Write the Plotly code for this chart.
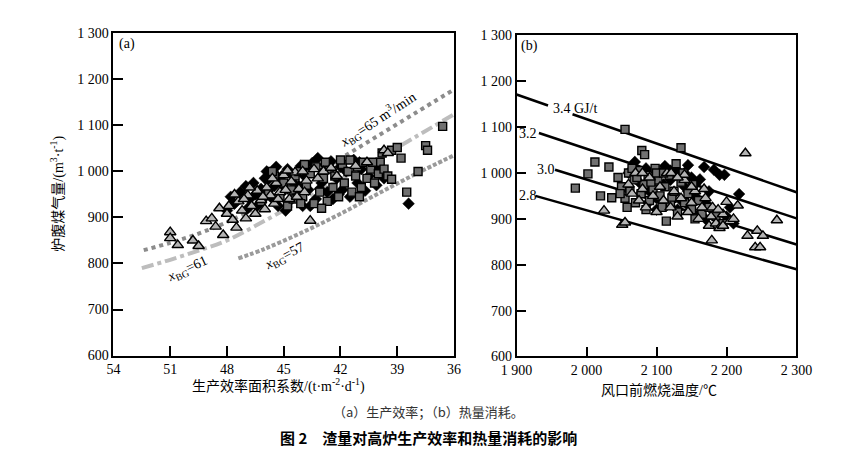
import plotly.graph_objects as go

# ---- panel (a): production efficiency ----
a_tri_x = [51.0, 51.0, 50.6, 49.8, 49.5, 49.1, 48.8, 48.6, 48.2, 48.0, 47.9, 47.7, 47.5, 47.4, 47.2,
           47.0, 46.9, 46.7, 46.5, 46.4, 46.2, 46.0, 45.9, 45.7, 45.5, 45.4, 45.2, 45.0, 44.9, 44.7,
           44.6, 44.4, 44.2, 44.0, 43.8, 43.6, 43.4, 43.2, 42.9, 42.5, 42.2, 41.2, 40.6, 39.7, 39.5,
           47.6, 46.8, 45.6, 44.8, 47.1, 48.4, 46.1, 45.3, 44.3, 43.9]
a_tri_y = [868, 855, 840, 850, 838, 892, 898, 880, 862, 908, 925, 895, 878, 935, 915,
           898, 948, 925, 908, 958, 938, 918, 965, 948, 930, 975, 955, 992, 960, 940,
           978, 998, 962, 1000, 980, 893, 1005, 985, 1000, 1008, 990, 1012, 1020, 1046, 1040,
           950, 965, 985, 1002, 940, 920, 945, 940, 945, 955]

a_dia_x = [47.3, 47.0, 46.8, 46.6, 46.4, 46.2, 46.0, 45.8, 45.7, 45.5, 45.3, 45.1, 45.0, 44.8, 44.7,
           44.5, 44.3, 44.1, 44.0, 43.9, 43.7, 43.5, 43.3, 43.2, 43.0, 42.9, 42.7, 42.5, 42.4, 42.2,
           42.0, 41.9, 41.7, 41.5, 41.3, 41.1, 40.9, 40.7, 40.5, 40.3, 40.1, 39.9, 39.7, 38.4, 45.9,
           46.9, 44.6, 43.8, 42.8, 47.6, 46.1, 44.9, 43.6, 42.1, 41.0, 40.0, 45.4, 44.2, 43.1, 46.5,
           48.0, 47.8]
a_dia_y = [955, 968, 940, 975, 925, 962, 985, 983, 945, 968, 925, 990, 958, 1005, 935,
           975, 948, 1012, 925, 990, 960, 1018, 940, 1029, 975, 1000, 955, 1022, 940, 985,
           1010, 960, 1000, 945, 1025, 975, 1005, 958, 990, 1015, 970, 1000, 985, 930, 1000,
           920, 995, 1005, 1015, 930, 940, 915, 925, 950, 1020, 1010, 1010, 968, 962, 950,
           915, 945]

a_sq_x = [46.2, 45.8, 45.5, 45.2, 45.0, 44.8, 44.6, 44.4, 44.2, 44.0, 43.8, 43.6, 43.4, 43.3, 43.1,
          42.9, 42.7, 42.6, 42.4, 42.3, 42.1, 41.9, 41.8, 41.6, 41.4, 41.2, 41.1, 40.9, 40.8, 40.6,
          40.4, 40.2, 40.0, 39.9, 39.7, 39.5, 39.3, 39.0, 38.8, 38.5, 37.9, 37.5, 37.4, 36.6, 44.5,
          43.0, 41.5, 42.8, 40.3, 45.6, 44.1, 41.0, 39.8, 43.9, 42.0, 39.3]
a_sq_y = [935, 955, 990, 945, 975, 925, 960, 990, 1000, 945, 970, 995, 930, 1010, 955,
          985, 935, 1005, 965, 990, 945, 1015, 975, 1000, 955, 990, 1010, 965, 1020, 985,
          1005, 975, 995, 1020, 1005, 990, 1046, 1052, 1029, 955, 1000, 1056, 1046, 1098, 940,
          920, 1025, 1020, 1020, 1000, 930, 945, 1040, 1015, 1025, 983]

# x_BG lines
l65_x = [52.4, 51.0, 49.5, 48.0, 46.0, 44.0, 42.0, 40.0, 38.0, 36.0]
l65_y = [829, 845, 865, 890, 932, 979, 1028, 1078, 1128, 1178]
l61_x = [52.5, 51.0, 49.5, 48.0, 46.0, 44.0, 42.0, 40.0, 38.0, 36.0]
l61_y = [790, 808, 828, 850, 893, 938, 983, 1028, 1076, 1124]
l57_x = [47.4, 46.0, 44.0, 42.0, 40.0, 38.0, 36.0]
l57_y = [811, 832, 868, 908, 952, 995, 1035]

# ---- panel (b): heat consumption ----
b_sq_t = [1984, 2002, 2012, 2020, 2032, 2036, 2055, 2079, 2083, 2135, 2045, 2050, 2055, 2060, 2062,
          2068, 2070, 2075, 2078, 2082, 2088, 2090, 2095, 2098, 2102, 2105, 2108, 2112, 2114, 2118,
          2122, 2125, 2128, 2130, 2135, 2140, 2145, 2150, 2155, 2160, 2165, 2175, 2185, 2195, 2065,
          2085, 2100, 2048, 2058, 2072, 2092, 2110, 2120, 2138, 2152]
b_sq_q = [967, 998, 1024, 950, 1013, 946, 1095, 1049, 1040, 1055, 990, 970, 945, 1000, 960,
          985, 935, 1005, 955, 975, 995, 940, 965, 1010, 985, 950, 925, 970, 895, 995,
          945, 960, 1020, 915, 980, 935, 955, 920, 900, 940, 910, 925, 905, 890, 1010,
          920, 1000, 955, 925, 990, 980, 1000, 930, 1000, 975]

b_dia_t = [2060, 2069, 2075, 2085, 2090, 2095, 2100, 2105, 2110, 2115, 2120, 2125, 2130, 2135, 2140,
           2145, 2148, 2150, 2155, 2160, 2168, 2162, 2170, 2175, 2182, 2182, 2190, 2197, 2200, 2205,
           2218, 2210, 2140, 2120, 2100, 2088, 2130, 2155, 2170, 2112, 2078, 2145]
b_dia_q = [1000, 1024, 980, 1010, 960, 990, 945, 1000, 975, 930, 985, 955, 1005, 940, 970,
           1017, 925, 990, 950, 910, 1013, 986, 935, 960, 1007, 915, 996, 996, 905, 925,
           954, 890, 1000, 1005, 920, 935, 920, 975, 900, 1015, 955, 960]

b_tri_t = [2025, 2051, 2055, 2060, 2065, 2070, 2075, 2080, 2085, 2090, 2095, 2100, 2105, 2110, 2115,
           2120, 2125, 2130, 2135, 2140, 2145, 2150, 2155, 2160, 2165, 2170, 2175, 2178, 2180, 2185,
           2190, 2195, 2200, 2205, 2216, 2210, 2230, 2244, 2252, 2241, 2248, 2179, 2272, 2227, 2195,
           2080, 2121, 2140, 2168, 2188, 2150, 2130]
b_tri_q = [918, 887, 892, 975, 955, 1000, 940, 965, 925, 990, 950, 915, 970, 940, 1000,
           925, 960, 905, 945, 985, 915, 935, 960, 900, 925, 945, 885, 905, 925, 890,
           880, 910, 937, 895, 929, 900, 863, 874, 863, 838, 838, 853, 897, 1043, 885,
           1000, 1000, 996, 965, 920, 970, 990]

# heat consumption lines (GJ/t)
h34_t = [1900, 1945, None, 1980, 2300]
h34_q = [1171, 1147, None, 1128, 958]
h32_t = [1932, 2300]
h32_q = [1087, 901]
h30_t = [1955, 2300]
h30_q = [1007, 844]
h28_t = [1927, 2300]
h28_q = [950, 790]

SERIF = 'Liberation Serif, "Noto Sans CJK SC", serif'
W, H = 842, 460

fig = go.Figure()

dia = dict(symbol="diamond", size=9, color="black", line=dict(color="black", width=0.5))
sq = dict(symbol="square", size=8, color="#707070", line=dict(color="black", width=1.4))
tri = dict(symbol="triangle-up", size=10, color="#b4b4b4", line=dict(color="black", width=1.4))

# panel a
fig.add_trace(go.Scatter(x=l65_x, y=l65_y, mode="lines", line=dict(color="#8c8c8c", width=4, dash="dot", shape="spline"),
                         xaxis="x", yaxis="y"))
fig.add_trace(go.Scatter(x=l61_x, y=l61_y, mode="lines", line=dict(color="#bdbdbd", width=4, dash="dashdot", shape="spline"),
                         xaxis="x", yaxis="y"))
fig.add_trace(go.Scatter(x=l57_x, y=l57_y, mode="lines", line=dict(color="#9a9a9a", width=4, dash="4px,2px", shape="spline"),
                         xaxis="x", yaxis="y"))
fig.add_trace(go.Scatter(x=a_dia_x, y=a_dia_y, mode="markers", marker=dia, xaxis="x", yaxis="y"))
fig.add_trace(go.Scatter(x=a_sq_x, y=a_sq_y, mode="markers", marker=sq, xaxis="x", yaxis="y"))
fig.add_trace(go.Scatter(x=a_tri_x, y=a_tri_y, mode="markers", marker=tri, xaxis="x", yaxis="y"))

# panel b
for t, q in [(h34_t, h34_q), (h32_t, h32_q), (h30_t, h30_q), (h28_t, h28_q)]:
    fig.add_trace(go.Scatter(x=t, y=q, mode="lines", line=dict(color="black", width=2.5),
                             xaxis="x2", yaxis="y2", connectgaps=False))
fig.add_trace(go.Scatter(x=b_dia_t, y=b_dia_q, mode="markers", marker=dia, xaxis="x2", yaxis="y2"))
fig.add_trace(go.Scatter(x=b_sq_t, y=b_sq_q, mode="markers", marker=sq, xaxis="x2", yaxis="y2"))
fig.add_trace(go.Scatter(x=b_tri_t, y=b_tri_q, mode="markers", marker=tri, xaxis="x2", yaxis="y2"))

y_vals = [600, 700, 800, 900, 1000, 1100, 1200, 1300]
y_text = ["600", "700", "800", "900", "1 000", "1 100", "1 200", "1 300"]
a_x_vals = [54, 51, 48, 45, 42, 39, 36]
b_x_vals = [1900, 2000, 2100, 2200, 2300]
b_x_text = ["1 900", "2 000", "2 100", "2 200", "2 300"]

axis_common = dict(showline=True, linecolor="black", linewidth=1.6, mirror=True, ticks="inside",
                   ticklen=10, tickwidth=1.6, tickcolor="black", showgrid=False, zeroline=False,
                   tickfont=dict(family=SERIF, size=14, color="black"))

fig.update_layout(
    width=W, height=H,
    margin=dict(l=0, r=0, t=0, b=0),
    paper_bgcolor="white", plot_bgcolor="white",
    showlegend=False,
    xaxis=dict(domain=[93 / W, 447 / W], range=[54, 36], tickvals=a_x_vals, anchor="y", **axis_common),
    yaxis=dict(domain=[1 - 352 / H, 1 - 19 / H], range=[600, 1300], tickvals=y_vals, ticktext=y_text,
               anchor="x", **axis_common),
    xaxis2=dict(domain=[512 / W, 803 / W], range=[1900, 2300], tickvals=b_x_vals, ticktext=b_x_text,
                anchor="y2", **axis_common),
    yaxis2=dict(domain=[1 - 353 / H, 1 - 21 / H], range=[600, 1300], tickvals=y_vals, ticktext=y_text,
                anchor="x2", **axis_common),
)

f14 = dict(family=SERIF, size=14, color="black")
ann = [
    # panel letters
    dict(text="(a)", x=97 / W, y=1 - 30 / H, xref="paper", yref="paper", xanchor="left", font=f14),
    dict(text="(b)", x=515 / W, y=1 - 32 / H, xref="paper", yref="paper", xanchor="left", font=f14),
    # x_BG labels
    dict(text="<i>x</i><sub>BG</sub>=65 m<sup>3</sup>/min", x=40.0, y=1113, xref="x", yref="y",
         textangle=-33, font=f14),
    dict(text="<i>x</i><sub>BG</sub>=61", x=50.1, y=788, xref="x", yref="y", textangle=-25, font=f14),
    dict(text="<i>x</i><sub>BG</sub>=57", x=44.95, y=816, xref="x", yref="y", textangle=-28, font=f14),
    # heat labels
    dict(text="3.4 GJ/t", x=1949, y=1140, xref="x2", yref="y2", xanchor="left", font=f14),
    dict(text="3.2", x=1901, y=1085, xref="x2", yref="y2", xanchor="left", font=f14),
    dict(text="3.0", x=1926, y=1007, xref="x2", yref="y2", xanchor="left", font=f14),
    dict(text="2.8", x=1900, y=950, xref="x2", yref="y2", xanchor="left", font=f14),
    # axis titles
    dict(text="炉腹煤气量/(m<sup>3</sup>·t<sup>-1</sup>)", x=35 / W, y=1 - 185 / H, xref="paper", yref="paper",
         textangle=-90, font=f14),
    dict(text="生产效率面积系数/(t·m<sup>-2</sup>·d<sup>-1</sup>)", x=265 / W, y=1 - 383 / H, xref="paper",
         yref="paper", font=f14),
    dict(text="风口前燃烧温度/℃", x=660 / W, y=1 - 388 / H, xref="paper", yref="paper", font=f14),
    # caption
    dict(text="（a）生产效率；（b）热量消耗。", x=420 / W, y=1 - 410 / H, xref="paper", yref="paper",
         font=dict(family="Noto Sans CJK SC", size=13, color="#333333")),
    dict(text="<b>图 2　渣量对高炉生产效率和热量消耗的影响</b>", x=420 / W, y=1 - 437 / H, xref="paper",
         yref="paper", font=dict(family="Noto Sans CJK SC", size=15, color="black")),
]
for a in ann:
    a.setdefault("showarrow", False)
    a.setdefault("xanchor", "center")
    a.setdefault("yanchor", "middle")
fig.update_layout(annotations=ann)

fig.write_html("out.html")
